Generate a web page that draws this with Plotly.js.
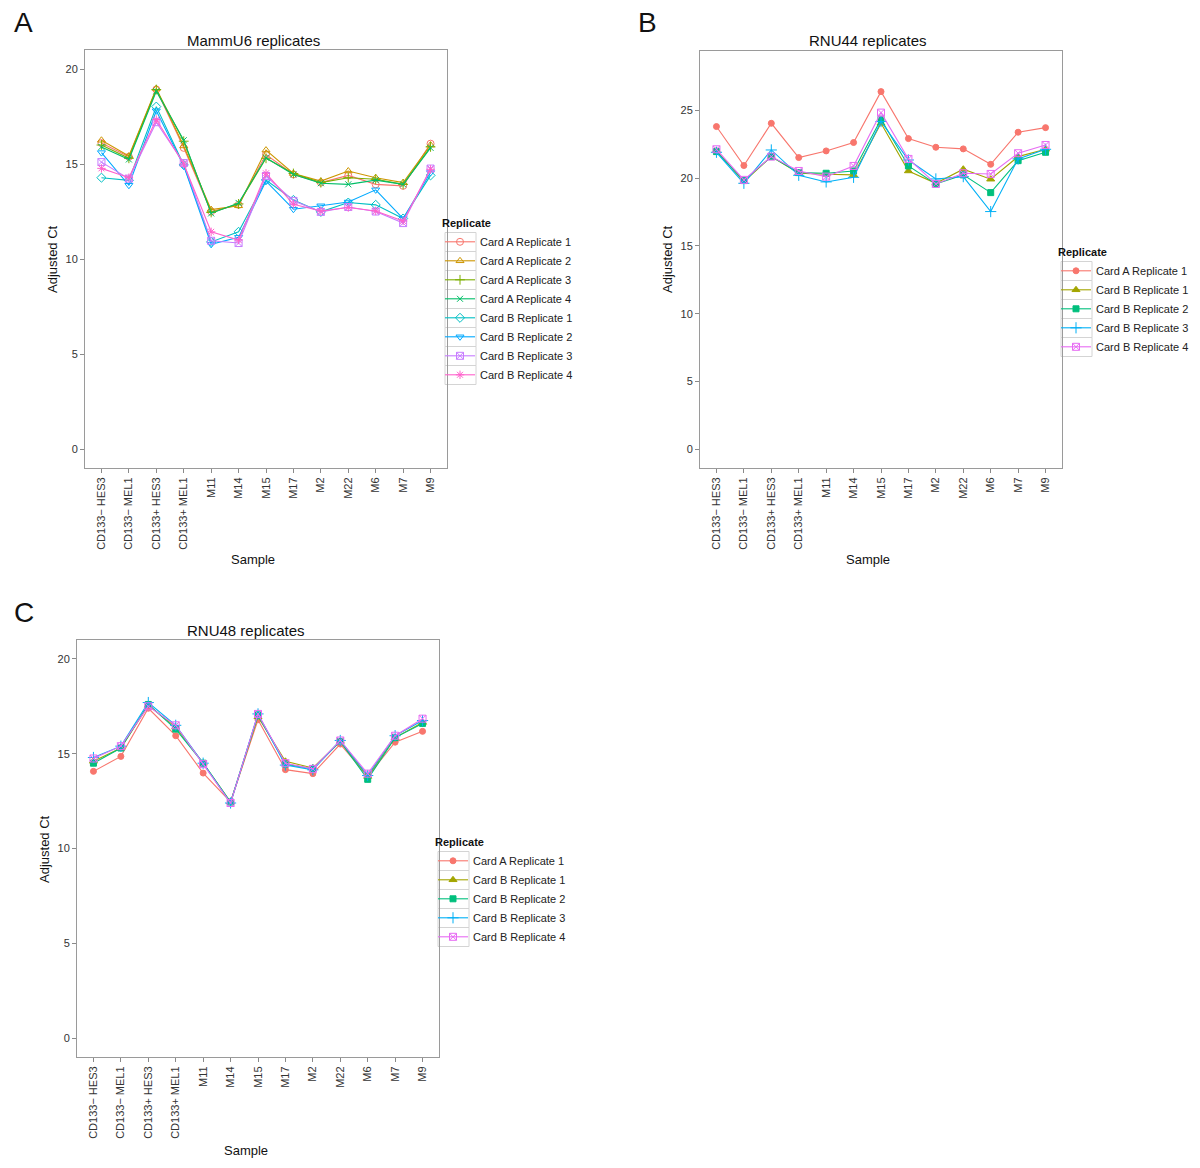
<!DOCTYPE html>
<html>
<head>
<meta charset="utf-8">
<script src="https://cdn.plot.ly/plotly-3.0.1.min.js"></script>
<style>
  body { margin: 0; background: #fff; }
  #fig { width: 1200px; height: 1168px; }
</style>
</head>
<body>
<div id="fig"></div>
<script>
// sample order on every x axis
var samples = ['CD133\u2212 HES3', 'CD133\u2212 MEL1', 'CD133+ HES3', 'CD133+ MEL1',
               'M11', 'M14', 'M15', 'M17', 'M2', 'M22', 'M6', 'M7', 'M9'];

// A: MammU6, 8 replicates
var mammNames = ['Card A Replicate 1', 'Card A Replicate 2', 'Card A Replicate 3', 'Card A Replicate 4',
                 'Card B Replicate 1', 'Card B Replicate 2', 'Card B Replicate 3', 'Card B Replicate 4'];
var mammA1 = [16.1, 15.38, 18.92, 15.85, 12.5, 12.85, 15.5, 14.45, 14.02, 14.4, 13.93, 13.85, 16.07];
var mammA2 = [16.25, 15.42, 18.97, 15.95, 12.6, 12.8, 15.73, 14.5, 14.1, 14.63, 14.28, 14.02, 16.0];
var mammA3 = [16.0, 15.3, 18.92, 16.2, 12.45, 12.9, 15.3, 14.5, 14.02, 14.28, 14.2, 13.93, 15.9];
var mammA4 = [15.9, 15.24, 18.83, 16.25, 12.4, 12.95, 15.33, 14.45, 13.99, 13.93, 14.15, 13.93, 15.85];
var mammB1 = [14.28, 14.14, 18.02, 14.95, 10.9, 11.43, 14.16, 13.11, 12.48, 12.97, 12.85, 12.13, 14.4];
var mammB2 = [15.6, 13.88, 17.8, 14.9, 10.77, 11.14, 14.1, 12.62, 12.8, 13.0, 13.64, 12.13, 14.55];
var mammB3 = [15.1, 14.23, 17.2, 15.05, 10.96, 10.84, 14.37, 13.06, 12.48, 12.74, 12.5, 11.89, 14.76];
var mammB4 = [14.77, 14.28, 17.34, 15.0, 11.43, 11.0, 14.51, 12.88, 12.53, 12.71, 12.53, 12.0, 14.72];

// B: RNU44, 5 replicates
var rnuNames = ['Card A Replicate 1', 'Card B Replicate 1', 'Card B Replicate 2', 'Card B Replicate 3', 'Card B Replicate 4'];
var rnu44A1 = [23.82, 20.94, 24.06, 21.53, 22.02, 22.64, 26.4, 22.93, 22.29, 22.17, 21.03, 23.4, 23.74];
var rnu44B1 = [22.04, 19.75, 21.6, 20.37, 20.3, 20.25, 24.06, 20.54, 19.63, 20.67, 19.93, 21.6, 22.14];
var rnu44B2 = [21.97, 19.83, 21.6, 20.42, 20.37, 20.54, 24.36, 20.91, 19.58, 20.25, 18.94, 21.3, 21.92];
var rnu44B3 = [21.92, 19.63, 22.09, 20.22, 19.73, 20.07, 24.19, 21.35, 19.95, 20.12, 17.54, 21.43, 22.14];
var rnu44B4 = [22.14, 19.88, 21.6, 20.54, 20.12, 20.91, 24.85, 21.43, 19.58, 20.37, 20.32, 21.85, 22.46];

// C: RNU48, 5 replicates
var rnu48A1 = [14.07, 14.86, 17.4, 15.95, 13.98, 12.46, 16.79, 14.16, 13.95, 15.51, 13.81, 15.61, 16.18];
var rnu48B1 = [14.6, 15.3, 17.55, 16.4, 14.5, 12.45, 16.95, 14.6, 14.25, 15.65, 13.8, 15.85, 16.65];
var rnu48B2 = [14.5, 15.3, 17.6, 16.3, 14.5, 12.45, 17.05, 14.45, 14.2, 15.65, 13.65, 15.85, 16.6];
var rnu48B3 = [14.8, 15.4, 17.7, 16.5, 14.5, 12.4, 17.1, 14.4, 14.15, 15.7, 13.85, 15.95, 16.75];
var rnu48B4 = [14.75, 15.4, 17.5, 16.5, 14.45, 12.4, 17.1, 14.5, 14.2, 15.7, 13.95, 15.95, 16.85];

var mammSeries = [mammA1, mammA2, mammA3, mammA4, mammB1, mammB2, mammB3, mammB4];
var rnu44Series = [rnu44A1, rnu44B1, rnu44B2, rnu44B3, rnu44B4];
var rnu48Series = [rnu48A1, rnu48B1, rnu48B2, rnu48B3, rnu48B4];

// ggplot hue palettes and shapes
var col8 = ['#F8766D', '#CD9600', '#7CAE00', '#00BE67', '#00BFC4', '#00A9FF', '#C77CFF', '#FF61CC'];
var sym8 = ['circle-open', 'triangle-up-open', 'cross-thin-open', 'x-thin-open',
            'diamond-open', 'triangle-down-open', 'square-x-open', 'asterisk-open'];
var col5 = ['#F8766D', '#A3A500', '#00BF7D', '#00B0F6', '#E76BF3'];
var sym5 = ['circle', 'triangle-up', 'square', 'cross-thin-open', 'square-x-open'];

var data = [];
function addPanel(series, names, cols, syms, xa, ya, leg, msize) {
    for (var i = 0; i < series.length; i++) {
        data.push({
            type: 'scatter', mode: 'lines+markers',
            x: samples, y: series[i], name: names[i],
            xaxis: xa, yaxis: ya, legend: leg,
            line: {color: cols[i], width: 1.1},
            marker: {symbol: syms[i], size: msize[i], color: cols[i],
                     line: {color: cols[i], width: 1}}
        });
    }
}
addPanel(mammSeries, mammNames, col8, sym8, 'x', 'y', 'legend', [7, 7, 7, 6, 7, 7, 7, 7]);
addPanel(rnu44Series, rnuNames, col5, sym5, 'x2', 'y2', 'legend2', [6, 7, 6, 8, 7]);
addPanel(rnu48Series, rnuNames, col5, sym5, 'x3', 'y3', 'legend3', [6, 7, 6, 8, 7]);

var W = 1200, H = 1168;
function px(v) { return v / W; }
function py(v) { return 1 - v / H; }

function xax(d) {
    return {domain: d, range: [-0.6, 12.6], type: 'category',
            showline: true, mirror: true, linecolor: '#9a9a9a', linewidth: 1,
            ticks: 'outside', ticklen: 4, tickcolor: '#8a8a8a',
            tickangle: -90, showgrid: false, zeroline: false,
            tickfont: {size: 11, color: '#333'}};
}
function yax(d, r, xa) {
    return {domain: d, range: r, dtick: 5, tick0: 0, anchor: xa,
            showline: true, mirror: true, linecolor: '#9a9a9a', linewidth: 1,
            ticks: 'outside', ticklen: 4, tickcolor: '#8a8a8a',
            showgrid: false, zeroline: false,
            tickfont: {size: 11, color: '#333'}};
}
function leg(x, y) {
    return {x: px(x), y: py(y), xanchor: 'left', yanchor: 'top',
            font: {size: 11, color: '#222'}, bgcolor: 'rgba(0,0,0,0)',
            title: {text: '<b>Replicate</b>', font: {size: 11, color: '#111'}},
            itemwidth: 30};
}
function txt(s, x, y, size, angle) {
    return {text: s, x: px(x), y: py(y), xref: 'paper', yref: 'paper',
            showarrow: false, xanchor: 'center', yanchor: 'middle',
            textangle: angle || 0, font: {size: size, color: '#111'}};
}

// grey key boxes behind legend symbols, like ggplot legend keys
var shapes = [];
function keyBoxes(n, x0, yFirst) {
    for (var i = 0; i < n; i++) {
        var yc = yFirst + 19 * i;
        shapes.push({type: 'rect', xref: 'paper', yref: 'paper', layer: 'below',
                     x0: px(x0), x1: px(x0 + 31), y0: py(yc - 9.5), y1: py(yc + 9.5),
                     line: {color: '#d4d4d4', width: 1}, fillcolor: '#fff'});
    }
}
keyBoxes(mammNames.length, 445, 242);
keyBoxes(rnuNames.length, 1061, 271);
keyBoxes(rnuNames.length, 438, 861);

var xa = xax([px(85), px(447)]);
var xb = xax([px(700), px(1062)]);
var xc = xax([px(77), px(439)]);
xb.anchor = 'y2';
xc.anchor = 'y3';

var layout = {
    width: W, height: H,
    margin: {l: 0, r: 0, t: 0, b: 0},
    paper_bgcolor: '#fff', plot_bgcolor: '#fff',
    font: {family: 'Liberation Sans, Arial, sans-serif'},
    showlegend: true,
    xaxis: xa, xaxis2: xb, xaxis3: xc,
    yaxis: yax([py(468), py(50)], [-1, 21], 'x'),
    yaxis2: yax([py(468), py(51)], [-1.4, 29.4], 'x2'),
    yaxis3: yax([py(1057), py(640)], [-1, 21], 'x3'),
    legend: leg(440, 213),
    legend2: leg(1056, 242),
    legend3: leg(433, 832),
    shapes: shapes,
    annotations: [
        {text: 'A', x: px(12), y: py(22), xref: 'paper', yref: 'paper', showarrow: false,
         xanchor: 'left', yanchor: 'middle', font: {size: 28, color: '#111'}},
        {text: 'B', x: px(636), y: py(22), xref: 'paper', yref: 'paper', showarrow: false,
         xanchor: 'left', yanchor: 'middle', font: {size: 28, color: '#111'}},
        {text: 'C', x: px(12), y: py(612), xref: 'paper', yref: 'paper', showarrow: false,
         xanchor: 'left', yanchor: 'middle', font: {size: 28, color: '#111'}},
        txt('MammU6 replicates', 253, 40, 15),
        txt('RNU44 replicates', 868, 40, 15),
        txt('RNU48 replicates', 246, 630, 15),
        txt('Sample', 253, 560, 13),
        txt('Sample', 868, 560, 13),
        txt('Sample', 246, 1150, 13),
        txt('Adjusted Ct', 52, 259, 13, -90),
        txt('Adjusted Ct', 667, 259, 13, -90),
        txt('Adjusted Ct', 44, 849, 13, -90)
    ]
};

Plotly.newPlot('fig', data, layout, {displayModeBar: false, staticPlot: true});
</script>
</body>
</html>
